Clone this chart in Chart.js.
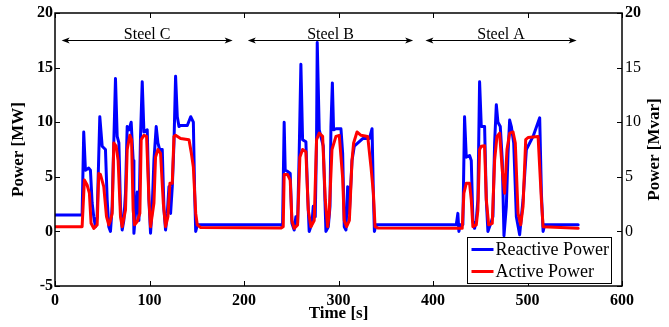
<!DOCTYPE html>
<html>
<head>
<meta charset="utf-8">
<script src="https://cdn.jsdelivr.net/npm/chart.js@4.4.1/dist/chart.umd.min.js"></script>
<style>
  html, body { margin: 0; padding: 0; background: #fff; }
  #wrap { width: 669px; height: 327px; position: relative; }
</style>
</head>
<body>
<div id="wrap"><canvas id="chart"></canvas></div>
<script>
// ── Data ───────────────────────────────────────────
const reactiveT = [
  0, 28.7, 30.4, 32.2, 35.7, 37.5, 39.3, 41.0, 42.8, 44.6, 47.4, 49.9, 53.4, 55.2, 56.9, 58.7,
  60.5, 62.2, 64.0, 65.8, 67.6, 69.3, 71.1, 72.8, 74.6, 76.4, 78.2, 80.6, 82.7, 83.5, 85.2, 87.0,
  88.8, 90.5, 92.3, 94.1, 97.6, 99.4, 101.1, 102.9, 104.7, 107.1, 108.9, 110.7, 113.5, 115.3,
  117.0, 118.8, 120.6, 122.3, 124.1, 125.9, 127.6, 129.4, 131.2, 132.9, 140.0, 143.6, 146.4,
  147.8, 148.9, 150.6,
  239.0, 240.8, 242.5, 243.6, 246.1, 248.9, 250.7, 253.1, 254.9, 256.7, 258.4, 260.2, 262.0,
  265.5, 267.3, 269.0, 271.9, 273.3, 275.4, 276.8, 277.5, 279.6, 283.9, 286.7, 289.2, 291.0,
  292.0, 293.5, 294.8, 297.3, 302.6, 304.4, 306.1, 307.9, 309.7, 311.5, 314.3, 316.7, 325.6,
  332.7, 335.5, 336.9, 338.0, 339.7,
  424.6, 426.3, 427.4, 428.8, 431.6, 433.4, 435.2, 438.7, 440.5, 442.2, 444.0, 445.8, 447.5,
  449.3, 451.1, 454.6, 456.4, 458.1, 460.6, 463.4, 465.2, 467.0, 468.7, 471.2, 473.3, 475.1,
  477.6, 479.4, 481.1, 482.9, 485.4, 488.2, 491.7, 495.3, 498.8, 505.9, 512.9, 514.7, 516.5,
  518.2, 553.6
];
const reactiveQ = [
  1.5, 1.5, 9.1, 5.6, 5.8, 5.6, 2.6, 1.35, 0.43, 1.35, 10.5, 7.8, 7.5, 2.9, 0.43, 0,
  2.3, 8.1, 14.0, 8.7, 8.1, 2.3, 0.13, 1.0, 3.5, 9.6, 9.3, 10.0, 6.5, -0.17, 1.65, 3.6,
  1.0, 8.7, 13.7, 9.1, 9.3, 2.9, -0.17, 2.3, 6.5, 9.6, 8.1, 7.5, 7.5, 2.0,
  0.13, 1.65, 4.1, 1.65, 4.1, 8.1, 14.2, 10.5, 9.6, 9.7, 9.7, 10.5, 10.0,
  3.5, 0, 0.6,
  0.6, 0.43, 10.0, 5.6, 5.5, 5.3, 0.74, 0.13, 1.35, 0.74, 7.15, 15.3, 8.4,
  8.2, 3.5, 0, 0.74, 2.3, 1.35, 8.7, 17.3, 9.3, 7.8, 0, 0.43, 2.3,
  9.6, 13.6, 9.3, 9.4, 9.4, 7.15, 0.43, 0.13, 4.1, 1.65, 6.5, 7.8, 8.5,
  8.5, 9.4, 3.5, 0, 0.6,
  0.6, 1.65, 0, 0.6, 0.6, 10.5, 6.8, 6.95, 6.5, 1.0, 0.28, 1.0, 2.9,
  13.7, 9.6, 9.6, 2.9, 0, 0.6, 1.35, 8.1, 11.6, 10.0, 9.6, 6.5, -0.4,
  2.3, 7.15, 10.2, 9.6, 8.1, 1.35, -0.3, 2.9, 7.5, 8.7, 10.4, 3.5, 0,
  0.6, 0.6
];

const activeT = [
  0, 28.7, 31.1, 34.0, 36.4, 38.2, 41.0, 44.6, 46.3, 48.1, 51.6, 54.5, 56.9, 58.7, 60.5, 62.2,
  64.7, 66.8, 69.3, 71.1, 74.6, 76.4, 79.2, 81.0, 82.7, 84.2, 87.0, 89.8, 91.2, 94.1, 96.9,
  99.4, 101.1, 104.7, 106.4, 108.9, 111.7, 114.6, 117.0, 119.5, 121.6, 124.1, 125.9, 127.6,
  132.9, 141.8, 144.3, 146.4, 148.9, 150.6, 154.2,
  239.0, 241.5, 242.5, 246.1, 248.9, 250.7, 253.1, 256.7, 259.1, 262.0, 265.5, 268.0, 270.8,
  274.3, 276.8, 279.6, 283.2, 286.0, 288.5, 290.2, 293.1, 297.3, 300.8, 304.4, 306.1, 308.6,
  311.5, 314.3, 316.0, 319.6, 323.8, 330.9, 334.4, 336.9, 338.7, 342.0,
  430.9, 432.7, 435.2, 438.7, 440.5, 442.2, 445.8, 447.5, 449.3, 451.1, 454.6, 456.4, 458.9,
  462.7, 465.2, 467.7, 470.5, 473.3, 475.8, 478.3, 481.1, 484.7, 487.1, 490.0, 492.8, 495.3,
  498.1, 500.6, 511.2, 514.7, 516.5, 553.6
];
const activeP = [
  0.43, 0.43, 4.7, 4.25, 3.5, 0.74, 0.28, 0.6, 5.3, 5.2, 4.1, 1.35, 0.6, 1.0, 1.65, 8.1,
  7.8, 6.5, 1.35, 0.43, 1.96, 7.5, 8.8, 8.4, 1.96, 0.6, 0.9, 1.65, 8.4, 8.8, 8.7,
  2.9, 0.43, 2.6, 6.8, 7.5, 7.15, 2.6, 0.43, 1.35, 4.4, 4.4, 8.7, 8.8,
  8.5, 8.4, 7.15, 5.9, 1.65, 0.6, 0.35,
  0.3, 0.43, 5.2, 5.2, 4.7, 1.0, 0.28, 0.6, 6.8, 7.5, 7.3, 1.96, 0.43,
  1.0, 8.4, 9.0, 8.7, 2.9, 0.43, 1.65, 7.5, 8.7, 8.8, 4.9, 1.0, 0.43,
  1.0, 6.5, 8.1, 9.1, 8.8, 8.7, 5.9, 3.5, 0.43, 0.3,
  0.28, 3.5, 4.4, 4.4, 2.9, 0.43, 0.6, 1.96, 7.5, 7.8, 7.85, 2.9, 0.6,
  0.74, 6.5, 8.7, 9.0, 5.6, 3.5, 7.5, 9.0, 9.1, 8.1, 1.65, 0.6, 2.3,
  8.4, 8.6, 8.7, 2.9, 0.43, 0.28
];

// steel campaigns: name, arrow start / end time
const steelNames = ['Steel C', 'Steel B', 'Steel A'];
const steelStart = [7, 204, 392];
const steelEnd   = [188, 379, 552];
const steelArrowY = 17.5;

const xTicks = [0, 100, 200, 300, 400, 500, 600];
const yTicks = [-5, 0, 5, 10, 15, 20];
const seriesNames  = ['Reactive Power', 'Active Power'];
const seriesColors = ['#0000ff', '#ff0000'];

const toPoints = (ts, vs) => ts.map((t, i) => ({ x: t, y: vs[i] }));

const SERIF = '"Liberation Serif", "Times New Roman", serif';

// ── Frame, inward ticks, titles, arrows, legend ────
const decorPlugin = {
  id: 'decor',
  afterDatasetsDraw(chart) {
    const { ctx, chartArea: a, scales } = chart;
    const x = scales.x, y = scales.y;
    ctx.save();

    // frame
    ctx.strokeStyle = '#000';
    ctx.lineWidth = 1.5;
    ctx.strokeRect(a.left, a.top, a.right - a.left, a.bottom - a.top);

    // inward tick marks
    ctx.lineWidth = 1;
    ctx.beginPath();
    xTicks.forEach(v => {
      const px = Math.round(x.getPixelForValue(v)) + 0.5;
      ctx.moveTo(px, a.bottom); ctx.lineTo(px, a.bottom - 5);
      ctx.moveTo(px, a.top);    ctx.lineTo(px, a.top + 5);
    });
    yTicks.forEach(v => {
      const py = Math.round(y.getPixelForValue(v)) + 0.5;
      ctx.moveTo(a.left, py);  ctx.lineTo(a.left + 5, py);
      ctx.moveTo(a.right, py); ctx.lineTo(a.right - 5, py);
    });
    ctx.stroke();

    // axis titles
    ctx.fillStyle = '#000';
    ctx.font = 'bold 17px ' + SERIF;
    ctx.textAlign = 'center';
    ctx.textBaseline = 'middle';
    const midY = (a.top + a.bottom) / 2;
    ctx.fillText('Time [s]', (a.left + a.right) / 2, 314);
    ctx.save();
    ctx.translate(19, midY);
    ctx.rotate(-Math.PI / 2);
    ctx.fillText('Power [MW]', 0, 0);
    ctx.restore();
    ctx.save();
    ctx.translate(655, midY);
    ctx.rotate(-Math.PI / 2);
    ctx.fillText('Power [Mvar]', 0, 0);
    ctx.restore();

    // steel campaign arrows
    const ay = Math.round(y.getPixelForValue(steelArrowY)) + 0.5;
    ctx.strokeStyle = '#000';
    ctx.lineWidth = 1;
    ctx.font = '16px ' + SERIF;
    ctx.textBaseline = 'alphabetic';
    steelNames.forEach((name, i) => {
      const x0 = x.getPixelForValue(steelStart[i]);
      const x1 = x.getPixelForValue(steelEnd[i]);
      ctx.beginPath();
      ctx.moveTo(x0 + 2, ay); ctx.lineTo(x1 - 2, ay);
      ctx.stroke();
      ctx.beginPath();
      ctx.moveTo(x0, ay); ctx.lineTo(x0 + 8, ay - 3); ctx.lineTo(x0 + 6, ay); ctx.lineTo(x0 + 8, ay + 3);
      ctx.closePath();
      ctx.moveTo(x1, ay); ctx.lineTo(x1 - 8, ay - 3); ctx.lineTo(x1 - 6, ay); ctx.lineTo(x1 - 8, ay + 3);
      ctx.closePath();
      ctx.fill();
      ctx.fillText(name, (x0 + x1) / 2, ay - 2);
    });

    // legend box in lower right corner
    const bw = 144, bh = 46;
    const bx = Math.round(a.right - 11 - bw) + 0.5;
    const by = Math.round(a.bottom - 3 - bh) + 0.5;
    ctx.fillStyle = '#fff';
    ctx.fillRect(bx, by, bw, bh);
    ctx.strokeStyle = '#000';
    ctx.lineWidth = 1;
    ctx.strokeRect(bx, by, bw, bh);
    ctx.font = '18px ' + SERIF;
    ctx.textAlign = 'left';
    ctx.textBaseline = 'middle';
    seriesNames.forEach((name, i) => {
      const ly = by + 12 + i * 22;
      ctx.strokeStyle = seriesColors[i];
      ctx.lineWidth = 3;
      ctx.beginPath();
      ctx.moveTo(bx + 4, ly); ctx.lineTo(bx + 26, ly);
      ctx.stroke();
      ctx.fillStyle = '#000';
      ctx.fillText(name, bx + 28, ly + 1);
    });
    ctx.restore();
  }
};

const tickFont = { family: SERIF, size: 16, weight: 'bold' };

const lineStyle = {
  borderWidth: 3,
  pointRadius: 0,
  tension: 0,
  borderJoinStyle: 'round',
  borderCapStyle: 'round'
};

new Chart(document.getElementById('chart'), {
  type: 'line',
  data: {
    datasets: [
      {
        ...lineStyle,
        label: seriesNames[0],
        data: toPoints(reactiveT, reactiveQ),
        borderColor: seriesColors[0],
        order: 2
      },
      {
        ...lineStyle,
        label: seriesNames[1],
        data: toPoints(activeT, activeP),
        borderColor: seriesColors[1],
        order: 1
      }
    ]
  },
  options: {
    responsive: true,
    maintainAspectRatio: false,
    animation: false,
    layout: { padding: { top: 13, left: 0, right: 0, bottom: 0 } },
    plugins: { legend: { display: false }, tooltip: { enabled: false } },
    scales: {
      x: {
        type: 'linear',
        min: 0, max: 600,
        afterBuildTicks: s => { s.ticks = xTicks.map(v => ({ value: v })); },
        afterFit: s => { s.height = 41; },
        grid: { display: false, drawTicks: false },
        border: { display: false },
        ticks: { font: tickFont, color: '#000', padding: 5, maxRotation: 0 }
      },
      y: {
        position: 'left',
        min: -5, max: 20,
        afterBuildTicks: s => { s.ticks = yTicks.map(v => ({ value: v })); },
        afterFit: s => { s.width = 55; },
        grid: { display: false, drawTicks: false },
        border: { display: false },
        ticks: { font: tickFont, color: '#000', padding: 2 }
      },
      y2: {
        position: 'right',
        min: -5, max: 20,
        afterBuildTicks: s => { s.ticks = yTicks.filter(v => v >= 0).map(v => ({ value: v })); },
        afterFit: s => { s.width = 47; },
        grid: { display: false, drawTicks: false },
        border: { display: false },
        ticks: {
          color: '#000', padding: 3,
          font: c => ({ family: SERIF, size: 16, weight: c.tick && c.tick.value === 20 ? 'bold' : 'normal' })
        }
      }
    }
  },
  plugins: [decorPlugin]
});
</script>
</body>
</html>
